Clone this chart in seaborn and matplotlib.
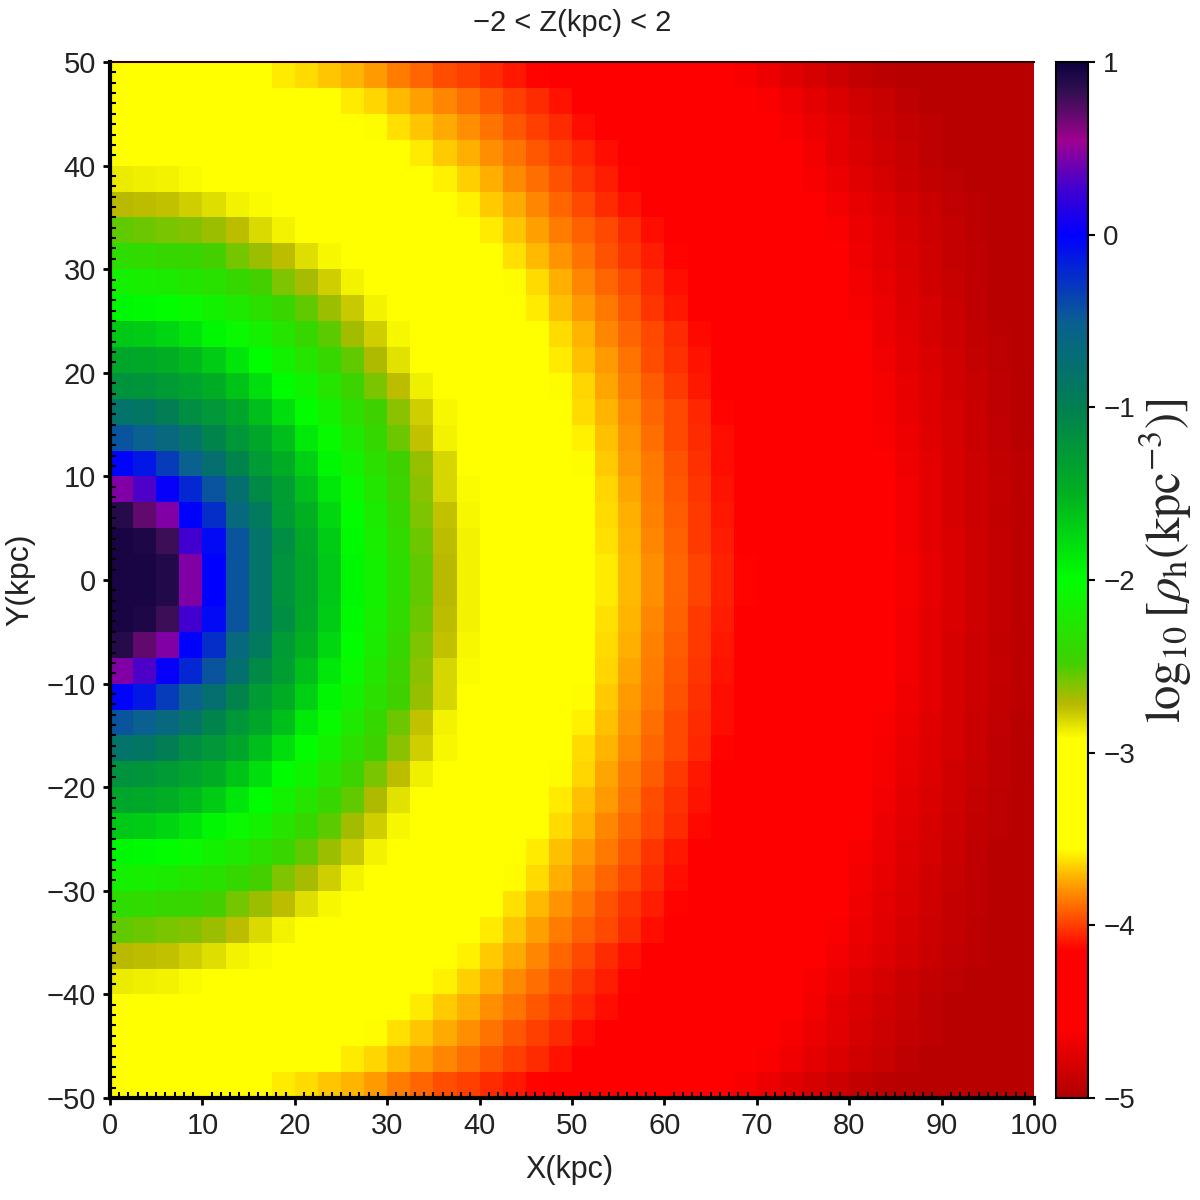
#!/usr/bin/env python3
"""Halo density map, log10(rho_h) in the X-Y plane for -2 < Z < 2 kpc."""

import numpy as np
import matplotlib
matplotlib.use("Agg")
import matplotlib.pyplot as plt
from matplotlib.colors import LinearSegmentedColormap
import seaborn as sns

# cell values read per row, 2.5 kpc bins, X = 0..100 left to right
y_48 = [-3.40, -3.41, -3.42, -3.44, -3.46, -3.49, -3.52, -3.60, -3.64, -3.68, -3.72, -3.78, -3.84, -3.90, -3.96, -4.00, -4.05, -4.09, -4.14, -4.18, -4.20, -4.26, -4.31, -4.37, -4.44, -4.50, -4.57, -4.63, -4.69, -4.75, -4.80, -4.85, -4.90, -4.93, -4.95, -4.95, -4.95, -4.95, -4.95, -4.95]
y_46 = [-3.28, -3.29, -3.30, -3.32, -3.34, -3.38, -3.41, -3.46, -3.50, -3.55, -3.60, -3.65, -3.70, -3.76, -3.82, -3.88, -3.94, -4.00, -4.05, -4.10, -4.16, -4.21, -4.26, -4.32, -4.37, -4.43, -4.49, -4.56, -4.62, -4.67, -4.73, -4.78, -4.84, -4.88, -4.92, -4.95, -4.95, -4.95, -4.95, -4.95]
y_44 = [-3.16, -3.16, -3.17, -3.20, -3.22, -3.26, -3.30, -3.34, -3.39, -3.45, -3.50, -3.56, -3.62, -3.68, -3.74, -3.80, -3.87, -3.94, -4.00, -4.05, -4.11, -4.16, -4.22, -4.27, -4.33, -4.39, -4.45, -4.51, -4.57, -4.63, -4.69, -4.74, -4.80, -4.85, -4.89, -4.92, -4.95, -4.95, -4.95, -4.95]
y_41 = [-3.00, -3.01, -3.03, -3.06, -3.10, -3.14, -3.18, -3.23, -3.29, -3.34, -3.40, -3.47, -3.54, -3.60, -3.67, -3.73, -3.80, -3.87, -3.94, -4.00, -4.06, -4.12, -4.18, -4.23, -4.29, -4.34, -4.41, -4.47, -4.54, -4.60, -4.66, -4.72, -4.78, -4.83, -4.88, -4.92, -4.95, -4.95, -4.95, -4.95]
y_39 = [-2.86, -2.87, -2.89, -2.91, -2.95, -3.00, -3.05, -3.12, -3.18, -3.25, -3.31, -3.38, -3.45, -3.52, -3.59, -3.66, -3.73, -3.81, -3.88, -3.95, -4.02, -4.08, -4.14, -4.19, -4.25, -4.30, -4.37, -4.43, -4.50, -4.56, -4.63, -4.69, -4.75, -4.81, -4.86, -4.90, -4.94, -4.95, -4.95, -4.95]
y_36 = [-2.72, -2.73, -2.75, -2.78, -2.83, -2.88, -2.91, -2.98, -3.05, -3.13, -3.21, -3.29, -3.36, -3.44, -3.52, -3.59, -3.67, -3.74, -3.82, -3.90, -3.97, -4.04, -4.10, -4.15, -4.21, -4.26, -4.33, -4.39, -4.45, -4.51, -4.58, -4.65, -4.71, -4.76, -4.82, -4.87, -4.91, -4.94, -4.95, -4.95]
y_34 = [-2.55, -2.57, -2.59, -2.62, -2.66, -2.73, -2.81, -2.88, -2.92, -3.00, -3.10, -3.18, -3.27, -3.35, -3.44, -3.52, -3.60, -3.68, -3.76, -3.84, -3.92, -3.98, -4.05, -4.12, -4.17, -4.23, -4.29, -4.36, -4.42, -4.49, -4.56, -4.62, -4.69, -4.74, -4.80, -4.85, -4.89, -4.93, -4.95, -4.95]
y_31 = [-2.35, -2.37, -2.40, -2.43, -2.49, -2.58, -2.66, -2.73, -2.83, -2.90, -2.98, -3.08, -3.18, -3.27, -3.36, -3.45, -3.54, -3.62, -3.71, -3.79, -3.87, -3.95, -4.02, -4.08, -4.14, -4.20, -4.26, -4.32, -4.40, -4.46, -4.53, -4.60, -4.67, -4.73, -4.78, -4.84, -4.89, -4.92, -4.95, -4.95]
y_29 = [-2.15, -2.17, -2.20, -2.25, -2.31, -2.39, -2.49, -2.60, -2.69, -2.78, -2.88, -2.96, -3.08, -3.18, -3.29, -3.37, -3.47, -3.56, -3.64, -3.73, -3.82, -3.90, -3.98, -4.05, -4.12, -4.18, -4.24, -4.30, -4.36, -4.43, -4.50, -4.58, -4.65, -4.71, -4.77, -4.83, -4.88, -4.92, -4.95, -4.95]
y_26 = [-1.95, -1.97, -2.02, -2.07, -2.14, -2.22, -2.32, -2.43, -2.55, -2.66, -2.77, -2.89, -2.98, -3.10, -3.21, -3.31, -3.40, -3.50, -3.60, -3.69, -3.77, -3.86, -3.94, -4.02, -4.09, -4.16, -4.22, -4.28, -4.35, -4.42, -4.49, -4.56, -4.63, -4.69, -4.76, -4.81, -4.87, -4.91, -4.95, -4.95]
y_24 = [-1.65, -1.68, -1.74, -1.83, -1.95, -2.06, -2.15, -2.27, -2.40, -2.53, -2.67, -2.78, -2.90, -3.00, -3.12, -3.24, -3.34, -3.45, -3.55, -3.64, -3.72, -3.82, -3.90, -3.98, -4.05, -4.13, -4.20, -4.26, -4.33, -4.40, -4.47, -4.54, -4.61, -4.68, -4.74, -4.80, -4.85, -4.90, -4.94, -4.95]
y_21 = [-1.40, -1.42, -1.47, -1.56, -1.68, -1.84, -2.00, -2.13, -2.27, -2.40, -2.55, -2.70, -2.84, -2.92, -3.05, -3.16, -3.28, -3.39, -3.49, -3.60, -3.69, -3.78, -3.87, -3.96, -4.03, -4.10, -4.17, -4.24, -4.30, -4.37, -4.44, -4.52, -4.59, -4.66, -4.72, -4.78, -4.84, -4.89, -4.93, -4.95]
y_19 = [-1.20, -1.22, -1.28, -1.36, -1.45, -1.62, -1.80, -1.98, -2.12, -2.27, -2.44, -2.59, -2.73, -2.87, -2.98, -3.11, -3.23, -3.34, -3.46, -3.56, -3.65, -3.75, -3.84, -3.93, -4.01, -4.09, -4.15, -4.21, -4.28, -4.35, -4.42, -4.50, -4.57, -4.64, -4.71, -4.77, -4.83, -4.88, -4.92, -4.95]
y_16 = [-0.80, -0.86, -0.97, -1.15, -1.26, -1.40, -1.60, -1.80, -2.02, -2.15, -2.32, -2.47, -2.63, -2.78, -2.90, -3.04, -3.18, -3.31, -3.41, -3.52, -3.63, -3.72, -3.81, -3.90, -3.98, -4.06, -4.14, -4.20, -4.26, -4.32, -4.40, -4.48, -4.56, -4.63, -4.70, -4.76, -4.81, -4.87, -4.92, -4.95]
y_14 = [-0.45, -0.52, -0.65, -0.80, -1.05, -1.25, -1.40, -1.60, -1.87, -2.05, -2.22, -2.39, -2.57, -2.74, -2.88, -2.99, -3.13, -3.26, -3.38, -3.49, -3.59, -3.69, -3.79, -3.88, -3.97, -4.05, -4.12, -4.18, -4.25, -4.31, -4.38, -4.47, -4.55, -4.62, -4.68, -4.75, -4.81, -4.86, -4.91, -4.95]
y_11 = [-0.02, -0.12, -0.32, -0.52, -0.75, -1.05, -1.28, -1.45, -1.70, -1.95, -2.14, -2.32, -2.47, -2.65, -2.80, -2.95, -3.10, -3.22, -3.34, -3.46, -3.57, -3.67, -3.77, -3.86, -3.95, -4.03, -4.11, -4.17, -4.24, -4.31, -4.38, -4.45, -4.53, -4.60, -4.67, -4.73, -4.80, -4.85, -4.90, -4.94]
y_09 = [0.45, 0.30, 0.02, -0.20, -0.45, -0.75, -1.10, -1.30, -1.60, -1.85, -2.07, -2.25, -2.45, -2.63, -2.80, -2.91, -3.06, -3.20, -3.32, -3.44, -3.55, -3.65, -3.75, -3.85, -3.94, -4.02, -4.10, -4.16, -4.23, -4.30, -4.37, -4.44, -4.52, -4.59, -4.66, -4.72, -4.79, -4.85, -4.89, -4.94]
y_06 = [0.88, 0.70, 0.45, 0.00, -0.25, -0.65, -0.90, -1.28, -1.50, -1.75, -2.02, -2.20, -2.40, -2.60, -2.75, -2.90, -3.03, -3.17, -3.30, -3.42, -3.53, -3.63, -3.73, -3.83, -3.93, -4.01, -4.09, -4.15, -4.22, -4.29, -4.36, -4.44, -4.51, -4.59, -4.66, -4.73, -4.79, -4.85, -4.90, -4.94]
y_04 = [0.95, 0.92, 0.80, 0.27, -0.05, -0.45, -0.80, -1.15, -1.42, -1.68, -1.97, -2.17, -2.37, -2.57, -2.73, -2.88, -3.01, -3.15, -3.28, -3.40, -3.52, -3.62, -3.72, -3.82, -3.92, -4.01, -4.08, -4.15, -4.22, -4.28, -4.35, -4.43, -4.50, -4.58, -4.65, -4.72, -4.78, -4.84, -4.89, -4.93]
y_01 = [0.95, 0.95, 0.90, 0.45, 0.00, -0.45, -0.80, -1.20, -1.40, -1.65, -1.95, -2.15, -2.35, -2.55, -2.72, -2.88, -3.00, -3.14, -3.27, -3.38, -3.50, -3.60, -3.70, -3.80, -3.90, -3.99, -4.07, -4.14, -4.21, -4.28, -4.35, -4.42, -4.50, -4.57, -4.64, -4.71, -4.78, -4.84, -4.89, -4.93]

upper_rows = [y_48, y_46, y_44, y_41, y_39, y_36, y_34, y_31, y_29, y_26,
              y_24, y_21, y_19, y_16, y_14, y_11, y_09, y_06, y_04, y_01]

# colour bar levels and the colour at each
cmap_levels = [-5.0, -4.6, -4.15, -4.0, -3.8, -3.56, -2.92, -2.72, -2.48, -2.0,
               -1.5, -1.0, -0.5, 0.0, 0.27, 0.55, 0.83, 1.0]
cmap_colors = ["#b00000", "#ff0000", "#ff0000", "#ff4000", "#ff9000", "#ffff00",
               "#ffff00", "#b8b800", "#40d000", "#00ff00", "#00b020", "#008050",
               "#0a5f90", "#0000ff", "#4000d0", "#a00090", "#301050", "#100040"]

x_ticks = [0, 10, 20, 30, 40, 50, 60, 70, 80, 90, 100]
y_ticks = [50, 40, 30, 20, 10, 0, -10, -20, -30, -40, -50]
cbar_ticks = [1, 0, -1, -2, -3, -4, -5]

BIN = 2.5
TEXT_COLOUR = "#222222"


def minus(v):
    return str(v).replace("-", "\u2212")


def main():
    sns.set_style("white")
    plt.rcParams["font.family"] = ["Liberation Sans", "DejaVu Sans"]
    plt.rcParams["mathtext.fontset"] = "stix"

    grid = np.array(upper_rows)
    grid = np.vstack([grid, grid[::-1]])

    span = cmap_levels[-1] - cmap_levels[0]
    stops = [(v - cmap_levels[0]) / span for v in cmap_levels]
    cmap = LinearSegmentedColormap.from_list("halo", list(zip(stops, cmap_colors)), N=512)

    fig = plt.figure(figsize=(12, 12), dpi=100)
    ax = fig.add_axes([110 / 1200, 102 / 1200, 924 / 1200, 1036 / 1200])
    cax = fig.add_axes([1056 / 1200, 102 / 1200, 32 / 1200, 1036 / 1200])

    sns.heatmap(grid, ax=ax, cbar_ax=cax, cmap=cmap, vmin=-5, vmax=1,
                xticklabels=False, yticklabels=False, square=False)

    # heatmap works in cell indices, so ticks are converted to bins
    ax.set_axisbelow(False)
    ax.set_xticks([v / BIN for v in x_ticks])
    ax.set_xticklabels([minus(v) for v in x_ticks], fontsize=21, color=TEXT_COLOUR)
    ax.set_yticks([(50 - v) / BIN for v in y_ticks])
    ax.set_yticklabels([minus(v) for v in y_ticks], fontsize=21, color=TEXT_COLOUR)
    ax.set_xticks(np.arange(0, 101) / BIN, minor=True)
    ax.set_yticks(np.arange(0, 101) / BIN, minor=True)
    ax.tick_params(which="major", direction="out", length=5, width=2, color="black",
                   left=True, bottom=True, pad=5)
    ax.tick_params(which="minor", direction="in", length=4, width=1.5, color="black",
                   left=True, bottom=True)

    for side in ["left", "bottom"]:
        ax.spines[side].set_visible(True)
        ax.spines[side].set_linewidth(3)
        ax.spines[side].set_color("black")
    ax.spines["top"].set_visible(True)
    ax.spines["top"].set_linewidth(1.5)
    ax.spines["top"].set_color("#300000")

    ax.set_xlabel("X(kpc)", fontsize=22, color=TEXT_COLOUR)
    ax.xaxis.set_label_coords(0.497, -0.055)
    ax.set_ylabel("Y(kpc)", fontsize=23, color=TEXT_COLOUR)
    ax.yaxis.set_label_coords(-0.081, 0.5)
    ax.set_title("\u22122 < Z(kpc) < 2", fontsize=21, pad=22, color=TEXT_COLOUR)

    cbar = ax.collections[0].colorbar
    cbar.set_ticks(cbar_ticks)
    cbar.set_ticklabels([minus(v) for v in cbar_ticks])
    cbar.ax.tick_params(labelsize=20, length=5, width=1.5, color="black", right=True,
                        pad=6, labelcolor=TEXT_COLOUR)
    cbar.outline.set_visible(True)
    cbar.outline.set_edgecolor("black")
    cbar.outline.set_linewidth(1.5)
    cbar.set_label(r"$\log_{10}[\rho_{\rm h}({\rm kpc}^{-3})]$", fontsize=35)
    cbar.ax.yaxis.set_label_coords(2.55, 0.519)

    fig.savefig("out.png", dpi=100)
    plt.close(fig)


if __name__ == "__main__":
    main()
